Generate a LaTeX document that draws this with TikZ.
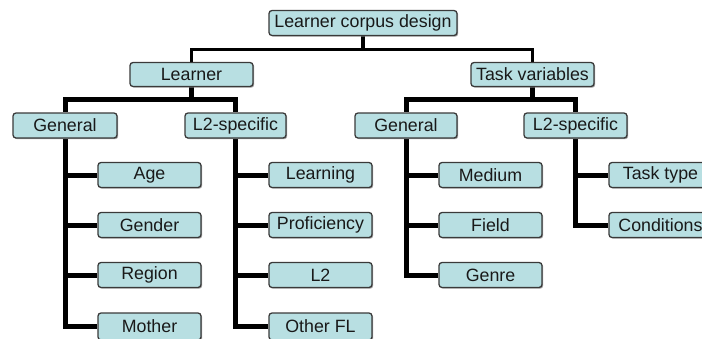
\documentclass[tikz,border=0pt]{standalone}
\usepackage{fontspec}
\setmainfont{Liberation Sans}
\usetikzlibrary{shadows,backgrounds}
\definecolor{boxfill}{HTML}{B8DFE2}
\definecolor{boxline}{HTML}{3A3A3A}
\tikzset{
  catbox/.style={draw=boxline, line width=1.3pt, fill=boxfill, rounded corners=3pt,
    minimum height=25pt, inner sep=0pt, text=black!90,
    font=\fontsize{17.8}{20}\selectfont,
    drop shadow={shadow xshift=1.2pt, shadow yshift=-1.2pt, fill=black!45, opacity=0.8}},
  thinlink/.style={line width=3.5pt, line join=miter, black},
  thicklink/.style={line width=5pt, line join=miter, black}
}
\begin{document}
\begin{tikzpicture}[x=1pt,y=-1pt]
\useasboundingbox (0,0) rectangle (702,338);
\clip (0,0) rectangle (702,338);
% level 0
\node[catbox, minimum width=188pt] (root) at (363,23) {Learner corpus design};
% level 1
\node[catbox, minimum width=123pt, minimum height=24pt] (learner) at (191.5,74.5) {Learner};
\node[catbox, minimum width=123pt, minimum height=24pt] (task) at (532.5,74.5) {Task variables};
% level 2
\node[catbox, minimum width=104pt] (genL) at (65,125.5) {General};
\node[catbox, minimum width=101pt] (l2L) at (235.5,125.5) {L2-specific};
\node[catbox, minimum width=102pt] (genT) at (406,125.5) {General};
\node[catbox, minimum width=103pt] (l2T) at (575.5,125.5) {L2-specific};
% level 3
\node[catbox, minimum width=103pt] (age) at (149.5,175) {Age};
\node[catbox, minimum width=103pt] (gender) at (149.5,225) {Gender};
\node[catbox, minimum width=103pt] (region) at (149.5,275) {Region};
\node[catbox, minimum width=103pt, minimum height=27pt] (mother) at (149.5,326.5) {Mother};
\node[catbox, minimum width=103pt] (learning) at (320.5,175) {Learning};
\node[catbox, minimum width=103pt] (prof) at (320.5,225) {Proficiency};
\node[catbox, minimum width=103pt] (ltwo) at (320.5,275) {L2};
\node[catbox, minimum width=103pt, minimum height=27pt] (otherfl) at (320.5,326.5) {Other FL};
\node[catbox, minimum width=103pt] (medium) at (490.5,175) {Medium};
\node[catbox, minimum width=103pt] (field) at (490.5,225) {Field};
\node[catbox, minimum width=103pt] (genre) at (490.5,275) {Genre};
\node[catbox, minimum width=103pt] (tasktype) at (660.5,175) {Task type};
\node[catbox, minimum width=103pt] (cond) at (660.5,225) {Conditions};
% bus levels
\coordinate (bus0) at (0,49.5);
\coordinate (bus1) at (0,99);
\begin{scope}[on background layer]
\draw[thinlink] (root.south) -- (root.south |- bus0) -| (learner.north);
\draw[thinlink] (root.south |- bus0) -| (task.north);
\draw[thicklink] (learner.south) -- (learner.south |- bus1) -| (genL.north);
\draw[thicklink] (learner.south |- bus1) -| (l2L.north);
\draw[thicklink] (task.south) -- (task.south |- bus1) -| (genT.north);
\draw[thicklink] (task.south |- bus1) -| (l2T.north);
% trunks
\draw[thicklink] (genL.south) |- (mother.west);
\draw[thicklink] (genL.south |- age.west) -- (age.west);
\draw[thicklink] (genL.south |- gender.west) -- (gender.west);
\draw[thicklink] (genL.south |- region.west) -- (region.west);
\draw[thicklink] (l2L.south) |- (otherfl.west);
\draw[thicklink] (l2L.south |- learning.west) -- (learning.west);
\draw[thicklink] (l2L.south |- prof.west) -- (prof.west);
\draw[thicklink] (l2L.south |- ltwo.west) -- (ltwo.west);
\draw[thicklink] (genT.south) |- (genre.west);
\draw[thicklink] (genT.south |- medium.west) -- (medium.west);
\draw[thicklink] (genT.south |- field.west) -- (field.west);
\draw[thicklink] (l2T.south) |- (cond.west);
\draw[thicklink] (l2T.south |- tasktype.west) -- (tasktype.west);
\end{scope}
\end{tikzpicture}
\end{document}
